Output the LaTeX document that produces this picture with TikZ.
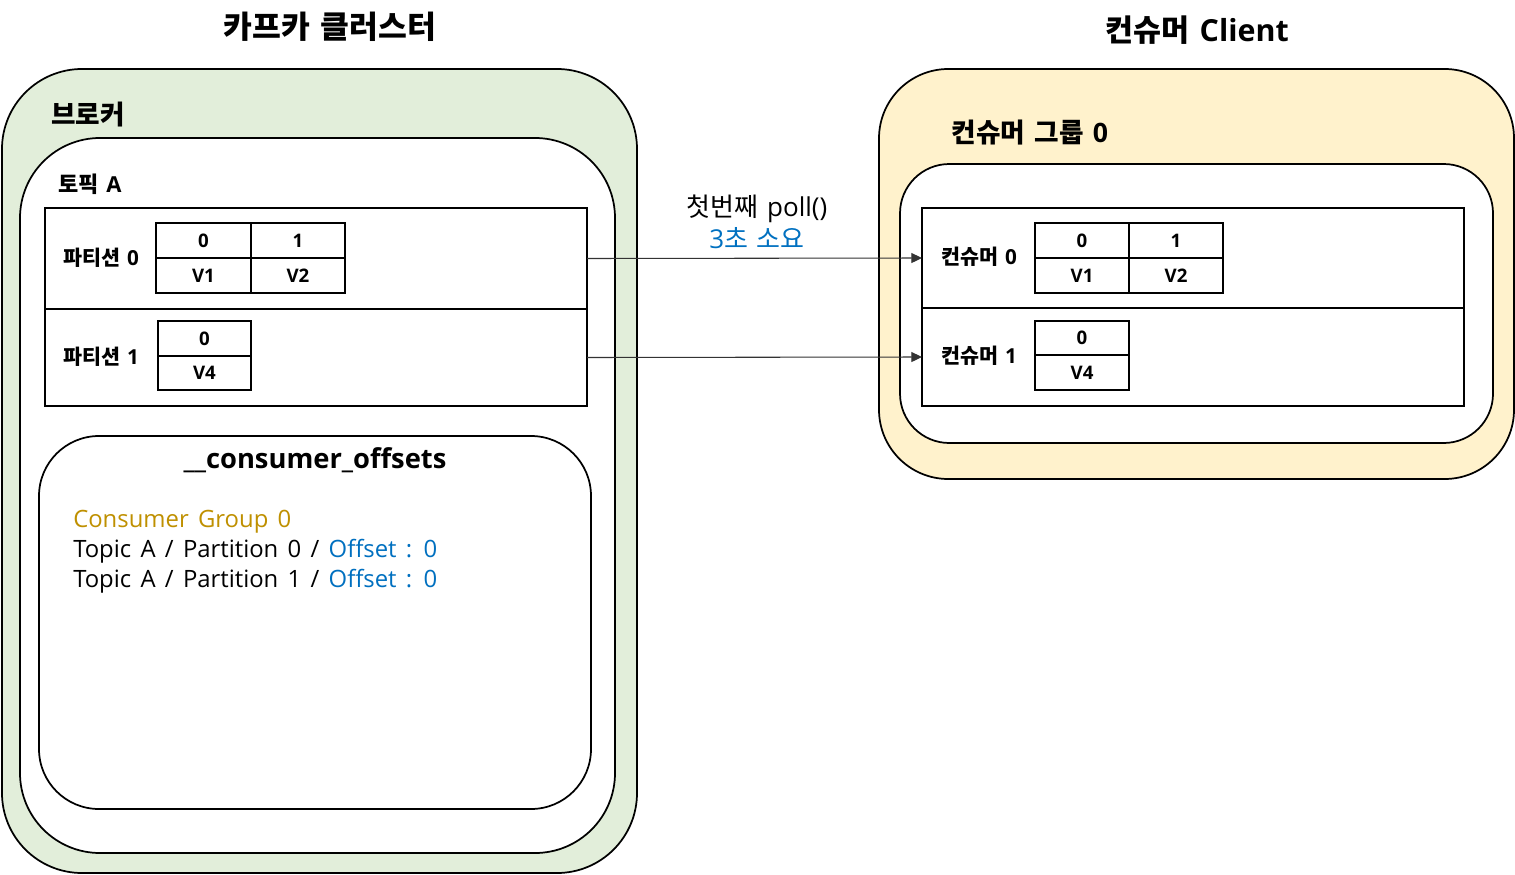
\documentclass[tikz,border=0pt]{standalone}
\usepackage{fontspec}
\setmainfont[WordSpace=1.5]{Open Sans}
\newfontfamily\kr[WordSpace=1.5]{Noto Sans CJK KR}
\usetikzlibrary{arrows.meta}
\definecolor{brokerfill}{HTML}{E2EEDA}
\definecolor{groupfill}{HTML}{FFF2CC}
\definecolor{goldtext}{HTML}{BF9000}
\definecolor{offblue}{HTML}{0070C0}
\tikzset{
  pw/.style={minimum width=#1*0.75pt},
  ph/.style={minimum height=#1*0.75pt},
  area/.style={draw, line width=1.3pt, inner sep=0pt, outer sep=0pt, anchor=north west},
  cell/.style={area, font=\bfseries\fontsize{14}{16}\selectfont},
  lbl/.style={font=\bfseries\fontsize{15.5}{18}\selectfont, inner sep=0pt},
  title/.style={font=\bfseries\fontsize{23.5}{28}\selectfont, inner sep=0pt},
  head/.style={font=\bfseries\fontsize{20}{24}\selectfont, inner sep=0pt},
  body/.style={font=\fontsize{17.9}{21}\selectfont, inner sep=0pt, anchor=west},
  flow/.style={draw=black!80, line width=0.8pt, -{Triangle[length=8pt,width=7.5pt]}}
}
\begin{document}
\begin{tikzpicture}[x=0.75pt,y=-0.75pt]
\useasboundingbox (0,0) rectangle (1515,874);

% titles
\node[title] (t1) at (330,27) {\kr 카프카 클러스터};
\node[title, font=\bfseries\fontsize{22.8}{27}\selectfont] (t2) at (1197,30) {\kr 컨슈머 \rmfamily Client};

% broker
\node[area, fill=brokerfill, rounded corners=60pt, pw=635, ph=804] (broker) at (2,69) {};
\node[head] (brokerlbl) at (88,115) {\kr 브로커};
\node[area, fill=white, rounded corners=60pt, pw=595, ph=715] (topic) at (20,138) {};
\node[lbl, font=\bfseries\fontsize{16.5}{19}\selectfont] (topiclbl) at (90,184) {\kr 토픽 \rmfamily A};

\node[area, pw=542, ph=101] (part0) at (45,208) {};
\node[area, pw=542, ph=97] (part1) at (45,309) {};
\node[lbl] (p0lbl) at (101,258) {\kr 파티션 \rmfamily 0};
\node[lbl] (p1lbl) at (101,357) {\kr 파티션 \rmfamily 1};

\node[cell, pw=95, ph=35] (pc00) at (156,223) {0};
\node[cell, pw=94, ph=35] (pc01) at (251,223) {1};
\node[cell, pw=95, ph=35] (pv00) at (156,258) {V1};
\node[cell, pw=94, ph=35] (pv01) at (251,258) {V2};
\node[cell, pw=93, ph=35] (pc10) at (158,321) {0};
\node[cell, pw=93, ph=34] (pv10) at (158,356) {V4};

% consumer offsets
\node[area, fill=white, rounded corners=45pt, pw=552, ph=373] (offsets) at (39,436) {};
\node[title, font=\bfseries\fontsize{20.5}{24}\selectfont] (offtitle) at (315,460) {\_\_consumer\_offsets};
\node[body, text=goldtext] (l1) at (73,522) {Consumer Group 0};
\node[body] (l2) at (73,551) {Topic A / Partition 0 / \textcolor{offblue}{Offset : 0}};
\node[body] (l3) at (73,581) {Topic A / Partition 1 / \textcolor{offblue}{Offset : 0}};

% consumer group
\node[area, fill=groupfill, rounded corners=52pt, pw=635, ph=410] (group) at (879,69) {};
\node[head] (grouplbl) at (1030,133) {\kr 컨슈머 그룹 \rmfamily 0};
\node[area, fill=white, rounded corners=37pt, pw=593, ph=279] (groupin) at (900,164) {};

\node[area, pw=542, ph=100] (cons0) at (922,208) {};
\node[area, pw=542, ph=98] (cons1) at (922,308) {};
\node[lbl] (c0lbl) at (979,257) {\kr 컨슈머 \rmfamily 0};
\node[lbl] (c1lbl) at (979,356) {\kr 컨슈머 \rmfamily 1};

\node[cell, pw=94, ph=35] (cc00) at (1035,223) {0};
\node[cell, pw=94, ph=35] (cc01) at (1129,223) {1};
\node[cell, pw=94, ph=35] (cv00) at (1035,258) {V1};
\node[cell, pw=94, ph=35] (cv01) at (1129,258) {V2};
\node[cell, pw=94, ph=34] (cc10) at (1035,321) {0};
\node[cell, pw=94, ph=35] (cv10) at (1035,355) {V4};

% connectors
\draw[flow] (part0.east) -- (cons0.west);
\draw[flow] (part1.east) -- (cons1.west);
\node[body, anchor=center, font=\fontsize{19.5}{23}\selectfont] (poll) at (757,209) {\kr 첫번째 \rmfamily poll()};
\node[body, anchor=center, font=\fontsize{19.5}{23}\selectfont, text=offblue] (time) at (757,238) {3\kr 초 소요};
\end{tikzpicture}
\end{document}
